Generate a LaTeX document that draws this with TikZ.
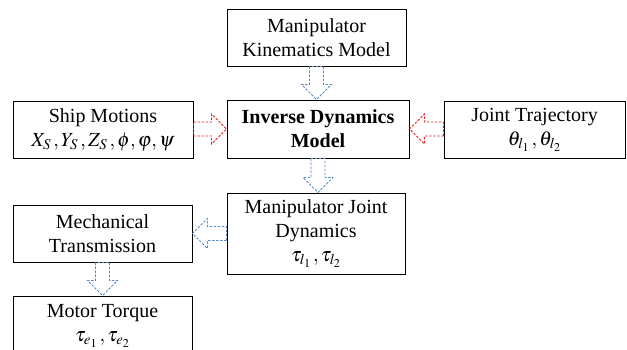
\documentclass[tikz,border=0pt]{standalone}
\usepackage{mathptmx}
\usepackage[no-math]{fontspec}
\setmainfont{Liberation Serif}
\usetikzlibrary{calc}
\definecolor{flowblue}{RGB}{90,135,205}
\definecolor{flowred}{RGB}{245,25,25}
\tikzset{
  >=latex,
}
\tikzstyle{block}=[draw,line width=0.9pt,fill=white,align=center,minimum width=180pt,minimum height=57pt,inner sep=2pt]
\tikzstyle{flow}=[line width=0.8pt,dash pattern=on 2.5pt off 1.5pt]
\tikzstyle{every node}=[font=\fontsize{20}{24}\selectfont]
% hollow arrow, top to bottom
\newcommand{\vflow}[3]{%
  \draw[flow,#1] let \p1=(#2.south), \p2=(#3.north) in
    (\x1-7pt,\y1) -- (\x1-7pt,\y2+15pt) -- (\x1-15pt,\y2+15pt) -- (\x1,\y2)
    -- (\x1+15pt,\y2+15pt) -- (\x1+7pt,\y2+15pt) -- (\x1+7pt,\y1) -- cycle;}
% hollow arrow, sideways
\newcommand{\hflow}[3]{%
  \draw[flow,#1] let \p1=(#2), \p2=(#3), \n1={ifthenelse(\x2>\x1,1,-1)} in
    (\x1,\y2-7pt) -- (\x2-\n1*15pt,\y2-7pt) -- (\x2-\n1*15pt,\y2-15pt) -- (\x2,\y2)
    -- (\x2-\n1*15pt,\y2+15pt) -- (\x2-\n1*15pt,\y2+7pt) -- (\x1,\y2+7pt) -- cycle;}

\begin{document}
\begin{tikzpicture}[x=1pt,y=-1pt]
  \useasboundingbox (0,0) rectangle (627,349);
  \node[block,minimum width=179pt] (kin) at (316.5,37.5) {Manipulator\\Kinematics Model};
  \node[block,minimum width=182pt,minimum height=58pt] (inv) at (318,129) {\bfseries Inverse Dynamics\\\bfseries Model};
  \node[block] (ship) at (103,129.5) {Ship Motions\\$X_S\,, Y_S\,, Z_S\,, \phi, \varphi, \psi$};
  \node[block,minimum width=181pt] (traj) at (534.5,129.5) {Joint Trajectory\\$\theta_{l_1}\,, \theta_{l_2}$};
  \node[block,minimum width=178pt,minimum height=81pt] (jdyn) at (316,233.5) {Manipulator Joint\\Dynamics\\$\tau_{l_1}\,, \tau_{l_2}$};
  \node[block,minimum width=179pt] (mech) at (102.5,233.5) {Mechanical\\Transmission};
  \node[block,minimum width=179pt,minimum height=60pt] (motor) at (102.5,326) {Motor Torque\\$\tau_{e_1}\,, \tau_{e_2}$};

  \vflow{flowblue}{kin}{inv}
  \hflow{flowred}{ship.east}{inv.west}
  \hflow{flowred}{traj.west}{inv.east}
  \vflow{flowblue}{inv}{jdyn}
  \hflow{flowblue}{jdyn.west}{mech.east}
  \vflow{flowblue}{mech}{motor}
\end{tikzpicture}
\end{document}
